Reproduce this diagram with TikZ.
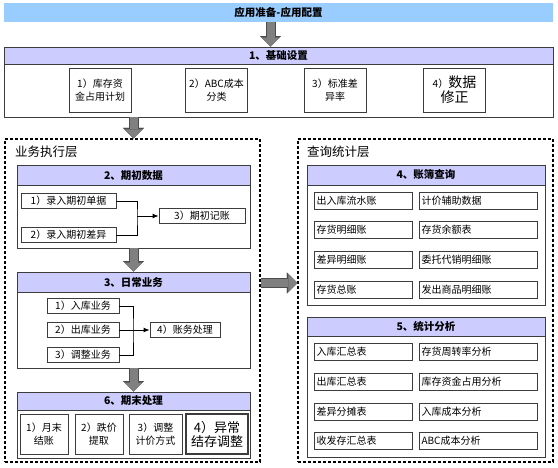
\documentclass[tikz,border=0pt]{standalone}
\usepackage{fontspec}
\setmainfont{Noto Sans CJK SC}
\usepackage{tikz}
\usetikzlibrary{arrows.meta, positioning, calc}
\definecolor{bannerblue}{RGB}{153, 204, 255}
\definecolor{hdrlilac}{RGB}{204, 204, 255}
\definecolor{edgegray}{RGB}{60, 60, 60}
\definecolor{arrowgray}{RGB}{128, 128, 128}
\tikzset{
  panel/.style={draw=edgegray, line width=0.9pt, fill=white, inner sep=0pt},
  hdr/.style={draw=edgegray, line width=0.9pt, fill=hdrlilac, inner sep=0pt, font=\fontsize{10.5}{12}\selectfont\bfseries},
  item/.style={draw=edgegray, line width=0.8pt, fill=white, inner sep=2pt, font=\fontsize{10}{12}\selectfont, minimum height=15},
  cell/.style={item, minimum height=17, text width=#1, align=left},
  tall/.style={item, align=center, font=\fontsize{10}{12.5}\selectfont},
  layer/.style={draw=black, line width=1.3pt, dash pattern=on 3pt off 2pt, inner sep=0pt},
  layerlabel/.style={anchor=west, inner sep=0pt, font=\fontsize{12.5}{14}\selectfont},
  wire/.style={draw=black, line width=0.9pt},
  link/.style={wire, -{Latex[length=6pt, width=5pt]}},
  fatarrow/.style={draw=arrowgray, line width=8pt, -{Triangle[width=18pt, length=9pt, line width=0.1pt]},
    preaction={draw=black!70, line width=10pt, -{Triangle[width=21pt, length=10.5pt, line width=0.1pt]}}}
}

\begin{document}
\begin{tikzpicture}[x=1pt, y=-1pt]
  \path[use as bounding box, fill=white] (0,0) rectangle (558,467);

  % top banner
  \node[fill=bannerblue, inner sep=0pt, minimum width=549, minimum height=19, font=\fontsize{10.5}{12}\selectfont\bfseries] (prep) at (278.5,12.5) {应用准备-应用配置};

  % 1. base settings
  \node[panel, minimum width=549, minimum height=70] (base) at (278.5,82) {};
  \node[hdr, minimum width=549, minimum height=17] (baseh) at (278.5,55.5) {1、基础设置};
  \node[tall, text width=58, minimum height=44] (plan) at (100,90) {1）库存资\\金占用计划};
  \node[tall, text width=58, minimum height=44] (abc) at (216.5,90) {2）ABC成本\\分类};
  \node[tall, text width=58, minimum height=44] (std) at (335,90) {3）标准差\\异率};
  \node[tall, text width=58, minimum height=44, font=\fontsize{14}{15}\selectfont] (fix) at (454.5,90) {{\fontsize{10}{12}\selectfont 4）}数据\\修正};

  \draw[fatarrow] ([xshift=-8]prep.south) -- ([xshift=-8]baseh.north);

  % two layers
  \node[layer, minimum width=255, minimum height=323] (exec) at (132.5,300.5) {};
  \node[layer, minimum width=255, minimum height=323] (query) at (425.5,300.5) {};
  \node[layerlabel] (execl) at (15,152) {业务执行层};
  \node[layerlabel] (queryl) at (307,152) {查询统计层};

  % 2. opening data
  \node[panel, minimum width=233, minimum height=83] (init) at (133.5,206.5) {};
  \node[hdr, minimum width=233, minimum height=20] (inith) at (133.5,175) {2、期初数据};
  \node[item, minimum width=95] (bill) at (68.5,201) {1）录入期初单据};
  \node[item, minimum width=95] (diff) at (68.5,235) {2）录入期初差异};
  \node[item, minimum width=86] (post) at (202,216) {3）期初记账};
  \coordinate (j1) at (137,216);
  \draw[wire] (bill.east) -| (j1) |- (diff.east);
  \draw[link] (j1) -- (post.west);

  \draw[fatarrow] (base.south -| init.north) -- (exec.north -| init.north);

  % 3. daily business
  \node[panel, minimum width=233, minimum height=96] (daily) at (133.5,320) {};
  \node[hdr, minimum width=233, minimum height=20] (dailyh) at (133.5,282) {3、日常业务};
  \node[item, minimum width=72] (inbiz) at (83,306) {1）入库业务};
  \node[item, minimum width=72] (outbiz) at (83,330) {2）出库业务};
  \node[item, minimum width=72] (adjbiz) at (83,355) {3）调整业务};
  \node[item, minimum width=70] (acct) at (185,330) {4）账务处理};
  \coordinate (j2) at (133,330);
  \draw[wire] (inbiz.east) -| (j2) |- (adjbiz.east);
  \draw[link] (outbiz.east) -- (acct.west);

  \draw[fatarrow] (init.south) -- (dailyh.north);

  % 6. period end
  \node[panel, minimum width=233, minimum height=66] (close) at (133.5,425) {};
  \node[hdr, minimum width=233, minimum height=18] (closeh) at (133.5,401) {6、期末处理};
  \node[tall, text width=44, minimum height=40] (month) at (44,434) {1）月末\\结账};
  \node[tall, text width=44, minimum height=40] (drop) at (99,434) {2）跌价\\提取};
  \node[tall, text width=49, minimum height=40] (mode) at (155.5,434) {3）调整\\计价方式};
  \node[tall, text width=58, minimum height=40, line width=1.2pt, font=\fontsize{13}{14}\selectfont] (odd) at (217,434) {4）异常\\结存调整};

  \draw[fatarrow] (daily.south) -- (closeh.north);

  \draw[fatarrow] ([yshift=17.5]exec.east) -- ([yshift=17.5]query.west);

  % 4. ledger query
  \node[panel, minimum width=238, minimum height=140] (ledger) at (426,235) {};
  \node[hdr, minimum width=238, minimum height=20] (ledgerh) at (426,175) {4、账簿查询};
  \node[cell=94] (flow) at (363.5,200.5) {出入库流水账};
  \node[cell=114] (aux) at (478.5,200.5) {计价辅助数据};
  \node[cell=94] (detail) at (363.5,230) {存货明细账};
  \node[cell=114] (bal) at (478.5,230) {存货余额表};
  \node[cell=94] (diffd) at (363.5,260) {差异明细账};
  \node[cell=114] (consign) at (478.5,260) {委托代销明细账};
  \node[cell=94] (gl) at (363.5,290) {存货总账};
  \node[cell=114] (ship) at (478.5,290) {发出商品明细账};

  % 5. statistics
  \node[panel, minimum width=238, minimum height=140] (stats) at (426,387) {};
  \node[hdr, minimum width=238, minimum height=19] (statsh) at (426,326.5) {5、统计分析};
  \node[cell=94] (insum) at (363.5,351.5) {入库汇总表};
  \node[cell=114] (turn) at (478.5,351.5) {存货周转率分析};
  \node[cell=94] (outsum) at (363.5,381.5) {出库汇总表};
  \node[cell=114] (fund) at (478.5,381.5) {库存资金占用分析};
  \node[cell=94] (share) at (363.5,411.5) {差异分摊表};
  \node[cell=114] (incost) at (478.5,411.5) {入库成本分析};
  \node[cell=94] (flowsum) at (363.5,441) {收发存汇总表};
  \node[cell=114] (abccost) at (478.5,441) {ABC成本分析};
\end{tikzpicture}
\end{document}
